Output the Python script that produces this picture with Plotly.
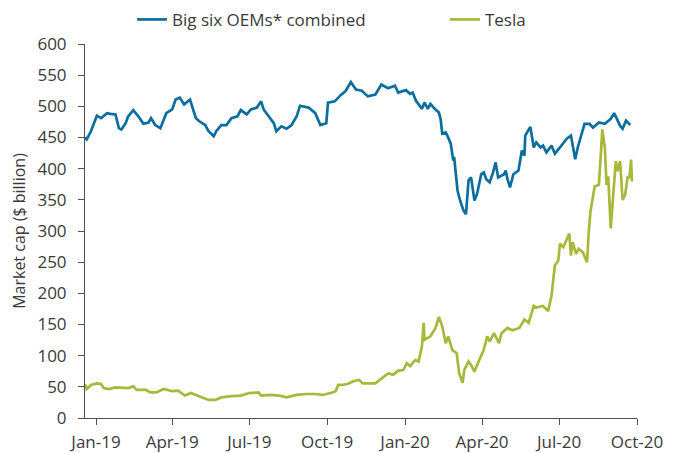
import plotly.graph_objects as go

# ---- data ----
oem_dates = ["2018-12-19","2018-12-21","2018-12-26","2018-12-31","2019-01-02","2019-01-07","2019-01-10","2019-01-14","2019-01-18","2019-01-24",
 "2019-01-28","2019-01-31","2019-02-05","2019-02-08","2019-02-14","2019-02-20","2019-02-26","2019-03-04","2019-03-07","2019-03-12",
 "2019-03-18","2019-03-25","2019-04-01","2019-04-05","2019-04-10","2019-04-15","2019-04-22","2019-04-29","2019-05-03","2019-05-10",
 "2019-05-14","2019-05-20","2019-05-23","2019-05-29","2019-06-04","2019-06-10","2019-06-17","2019-06-21","2019-06-28","2019-07-03",
 "2019-07-10","2019-07-15","2019-07-18","2019-07-24","2019-07-30","2019-08-02","2019-08-08","2019-08-14","2019-08-20","2019-08-26",
 "2019-08-30","2019-09-09","2019-09-17","2019-09-23","2019-09-30","2019-10-02","2019-10-10","2019-10-17","2019-10-23","2019-10-29",
 "2019-11-04","2019-11-11","2019-11-18","2019-11-27","2019-12-02","2019-12-04","2019-12-12","2019-12-20","2019-12-24","2020-01-02",
 "2020-01-07","2020-01-10","2020-01-14","2020-01-21","2020-01-24","2020-01-28","2020-01-31","2020-02-05","2020-02-10","2020-02-12",
 "2020-02-14","2020-02-18","2020-02-20","2020-02-24","2020-02-27","2020-02-28","2020-03-03","2020-03-06","2020-03-10","2020-03-13",
 "2020-03-16","2020-03-19","2020-03-23","2020-03-26","2020-03-31","2020-04-03","2020-04-06","2020-04-10","2020-04-14","2020-04-17",
 "2020-04-20","2020-04-27","2020-04-29","2020-05-01","2020-05-04","2020-05-08","2020-05-14","2020-05-18","2020-05-21","2020-05-22",
 "2020-05-28","2020-06-01","2020-06-04","2020-06-09","2020-06-12","2020-06-16","2020-06-22","2020-06-26","2020-07-02","2020-07-06",
 "2020-07-10","2020-07-15","2020-07-20","2020-07-23","2020-07-27","2020-07-31","2020-08-06","2020-08-10","2020-08-17","2020-08-24",
 "2020-08-31","2020-09-04","2020-09-11","2020-09-14","2020-09-18","2020-09-23"]
oem_values = [450,447,460,479,485,481,484,489,488,487,
 465,463,473,484,494,484,472,474,481,470,
 465,489,495,511,514,503,511,481,476,470,
 460,452,460,470,470,481,484,494,487,495,
 498,508,495,484,473,460,468,464,470,484,
 501,498,489,470,473,506,508,518,525,539,
 527,525,516,519,531,535,529,533,522,526,
 520,522,509,496,506,496,504,496,490,480,
 456,458,453,440,413,419,365,349,333,327,
 381,386,349,359,391,394,383,378,394,410,
 386,391,397,383,370,391,397,429,421,453,
 467,434,442,434,437,426,437,424,434,442,
 448,453,415,434,453,472,472,466,474,472,
 480,489,469,464,477,470]

tesla_dates = ["2018-12-19","2018-12-21","2018-12-26","2019-01-02","2019-01-07","2019-01-10","2019-01-16","2019-01-24","2019-02-08","2019-02-14",
 "2019-02-18","2019-03-01","2019-03-06","2019-03-13","2019-03-22","2019-04-01","2019-04-08","2019-04-16","2019-04-23","2019-05-06",
 "2019-05-14","2019-05-22","2019-05-29","2019-06-10","2019-06-21","2019-07-01","2019-07-12","2019-07-15","2019-07-26","2019-08-05",
 "2019-08-14","2019-08-26","2019-09-06","2019-09-17","2019-09-26","2019-10-07","2019-10-11","2019-10-14","2019-10-18","2019-10-25",
 "2019-11-01","2019-11-08","2019-11-12","2019-11-27","2019-12-04","2019-12-12","2019-12-18","2019-12-24","2019-12-30","2020-01-03",
 "2020-01-07","2020-01-13","2020-01-17","2020-01-21","2020-01-23","2020-01-24","2020-01-31","2020-02-04","2020-02-06","2020-02-10",
 "2020-02-14","2020-02-18","2020-02-21","2020-02-26","2020-03-02","2020-03-05","2020-03-09","2020-03-11","2020-03-16","2020-03-19",
 "2020-03-23","2020-03-27","2020-04-03","2020-04-07","2020-04-10","2020-04-15","2020-04-21","2020-04-24","2020-05-01","2020-05-07",
 "2020-05-15","2020-05-21","2020-05-26","2020-06-01","2020-06-04","2020-06-12","2020-06-18","2020-06-22","2020-06-26","2020-06-30",
 "2020-07-02","2020-07-06","2020-07-13","2020-07-15","2020-07-17","2020-07-21","2020-07-24","2020-07-29","2020-08-03","2020-08-05",
 "2020-08-07","2020-08-12","2020-08-17","2020-08-19","2020-08-21","2020-08-24","2020-08-26","2020-08-28","2020-08-31","2020-09-02",
 "2020-09-06","2020-09-08","2020-09-11","2020-09-14","2020-09-17","2020-09-20","2020-09-22","2020-09-24","2020-09-25"]
tesla_values = [54.5,46.5,53,55.6,54.5,48,46.5,49,48,51,
 45,45,41,41,46.5,43,44,36,40,33,
 29,29,33,35,36,40,41,36,37,36,
 33,37,38.5,38.5,37,41,43,53,53,54.5,
 59,61,55.6,55.6,62.6,71.6,69.5,76,77,88,
 83.4,93,90.5,115,152.6,125.6,131,139,144.5,162,
 147,120,131,109,104,71.6,56.5,77,90.5,85,
 74.3,87.8,109.4,131,123,136,120,136,144.5,140.7,
 144.5,158,152.6,179.7,177,179.7,171.5,196,244.5,252.5,
 279.6,274,296,260.7,282,263.4,271.5,266,250,298,
 331,371.4,374,417,463,433.5,374,387.6,304,341.7,
 412,396,412,349.8,358,387.6,385,414.6,379.4]

tick_dates = ["2019-01-01","2019-04-01","2019-07-01","2019-10-01","2020-01-01","2020-04-01","2020-07-01","2020-10-01"]
tick_labels = ["Jan-19","Apr-19","Jul-19","Oct-19","Jan-20","Apr-20","Jul-20","Oct-20"]
series_names = ["Big six OEMs* combined", "Tesla"]

BLUE = "#0B6E9E"
GREEN = "#A8B83B"
AXIS = "#505050"
TEXT = "#3a3a3a"
FONT = "Open Sans"

fig = go.Figure()
fig.add_trace(go.Scatter(x=oem_dates, y=oem_values, mode="lines", name=series_names[0],
                         line=dict(color=BLUE, width=2.7), legend="legend"))
fig.add_trace(go.Scatter(x=tesla_dates, y=tesla_values, mode="lines", name=series_names[1],
                         line=dict(color=GREEN, width=2.7), legend="legend2"))

legend_common = dict(orientation="h", xanchor="left", y=1.0645, yanchor="middle",
                     font=dict(family=FONT, size=17, color=TEXT), bgcolor="rgba(0,0,0,0)")

# the page body adds an 8px offset, so the figure is 8px smaller than the window
fig.update_layout(
    width=668, height=445,
    margin=dict(l=77, r=39, t=36, b=35, autoexpand=False),
    paper_bgcolor="white", plot_bgcolor="white",
    font=dict(family=FONT, size=16, color=TEXT),
    showlegend=True,
    legend=dict(x=0.0851, **legend_common),
    legend2=dict(x=0.652, **legend_common),
    xaxis=dict(type="date", range=["2018-12-19", "2020-10-01"],
               tickmode="array", tickvals=tick_dates, ticktext=tick_labels,
               showline=True, linecolor=AXIS, linewidth=1,
               ticks="outside", ticklen=6, tickcolor=AXIS, tickwidth=1,
               ticklabelstandoff=3, tickfont=dict(size=17),
               showgrid=False, zeroline=False, automargin=False),
    yaxis=dict(range=[0, 600], dtick=50, tick0=0,
               showline=True, linecolor=AXIS, linewidth=1,
               ticks="outside", ticklen=6, tickcolor=AXIS, tickwidth=1,
               ticklabelstandoff=8, tickfont=dict(size=17),
               showgrid=False, zeroline=False, automargin=False,
               title=dict(text="Market cap ($ billion)", standoff=8, font=dict(size=16))),
)

fig.write_html("out.html")
